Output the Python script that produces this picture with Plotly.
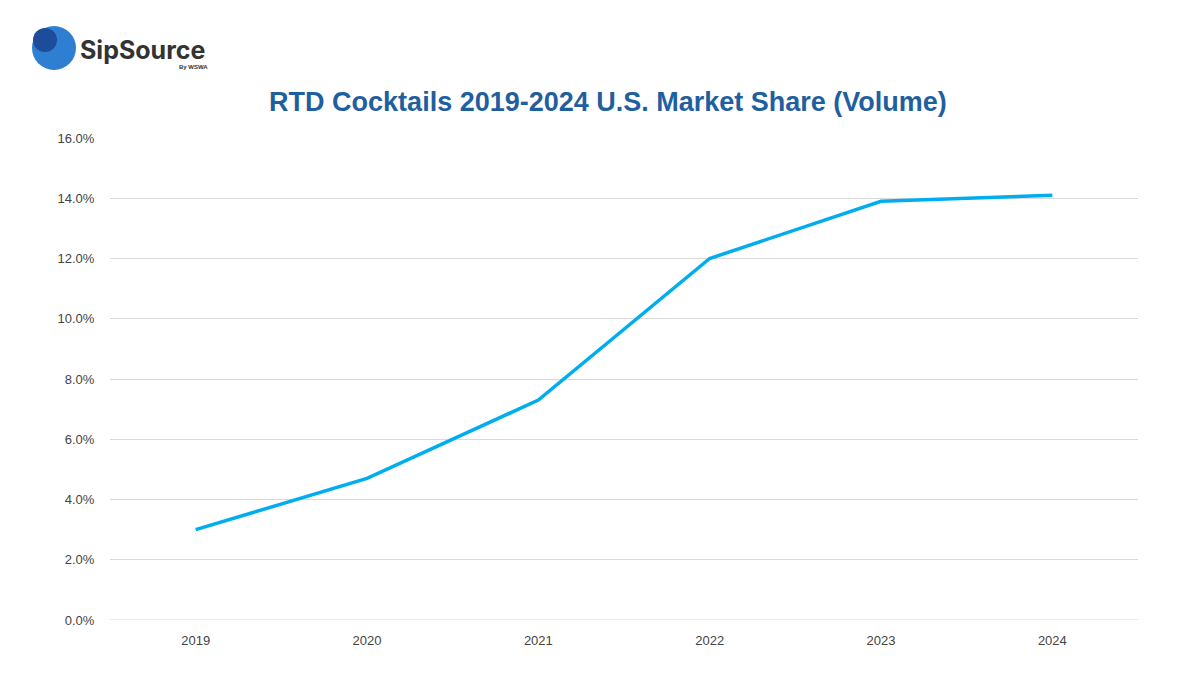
import plotly.graph_objects as go

years = ["2019", "2020", "2021", "2022", "2023", "2024"]
share = [3.0, 4.7, 7.3, 12.0, 13.9, 14.1]
y_ticks = [0, 2, 4, 6, 8, 10, 12, 14, 16]
y_labels = [f"{v:.1f}%" for v in y_ticks]

def px(x):  # page pixel -> paper
    return (x - 110) / 1028
def py(y):
    return (620 - y) / 482

fig = go.Figure(go.Scatter(x=years, y=share, mode="lines",
                           line=dict(color="#00AEEF", width=3.5)))
fig.update_layout(
    width=1200, height=675, plot_bgcolor="white", paper_bgcolor="white",
    margin=dict(l=102, r=70, t=130, b=63),
    showlegend=False,
    font=dict(family="Liberation Sans, Arial", color="#444", size=13),
    title=dict(text="<b>RTD Cocktails 2019-2024 U.S. Market Share (Volume)</b>",
               x=0.5, xanchor="center", y=0.861, yanchor="middle",
               font=dict(size=27, color="#1F5FA0")),
    xaxis=dict(type="category", range=[-0.5, 5.5], showgrid=False,
               showline=False, ticks="outside", ticklen=8, tickcolor="white"),
    yaxis=dict(range=[0, 16], tickvals=y_ticks, ticktext=y_labels,
               gridcolor="#D9D9D9", gridwidth=1, zeroline=False,
               ticks="outside", ticklen=12, tickcolor="white"),
)
fig.add_shape(type="line", xref="paper", yref="y", x0=0, x1=1, y0=0, y1=0,
              line=dict(color="#D9D9D9", width=1))
# logo
fig.add_shape(type="circle", xref="paper", yref="paper",
              x0=px(32), x1=px(76), y0=py(70), y1=py(26),
              fillcolor="#2E7FD1", line=dict(width=0))
fig.add_shape(type="circle", xref="paper", yref="paper",
              x0=px(33), x1=px(57), y0=py(52), y1=py(28),
              fillcolor="#1C4C9A", line=dict(width=0))
fig.add_annotation(text="<b>SipSource</b>", xref="paper", yref="paper",
                   x=px(78), y=py(50), xanchor="left", yanchor="middle",
                   showarrow=False, font=dict(size=25, color="#333",
                                              family="Inter, Liberation Sans"))
fig.add_annotation(text="<b>By WSWA</b>", xref="paper", yref="paper",
                   x=px(210), y=py(67), xanchor="right", yanchor="middle",
                   showarrow=False, font=dict(size=6, color="#333"))
fig.write_html("out.html")
